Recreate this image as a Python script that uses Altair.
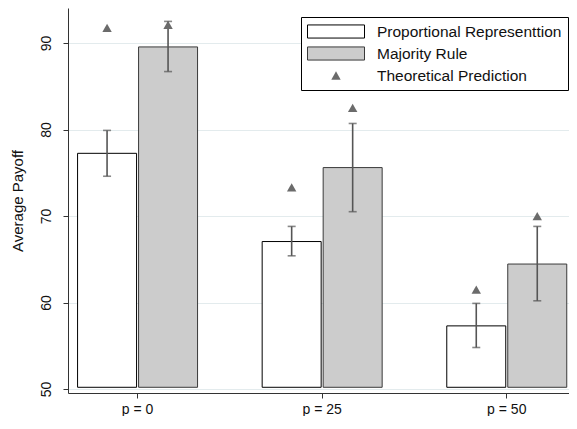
import altair as alt
import pandas as pd

# ---- data ----
groups = ["p = 0", "p = 25", "p = 50"]
series_names = ["Proportional Representtion", "Majority Rule", "Theoretical Prediction"]
bar_keys = ["PR", "MR"]

pr_mean = [77.25, 67.05, 57.3]
pr_lo = [74.6, 65.4, 54.8]
pr_hi = [79.9, 68.8, 59.9]

mr_mean = [89.55, 75.6, 64.45]
mr_lo = [86.7, 70.5, 60.2]
mr_hi = [92.5, 80.7, 68.8]

pr_theory = [91.75, 73.3, 61.5]
mr_theory = [92.1, 82.5, 70.0]

bar_base = 50.2
y_ticks = [50, 60, 70, 80, 90]

# ---- tables ----
bar_rows = []
tri_rows = []
for i, g in enumerate(groups):
    bar_rows.append(dict(group=g, bar="PR", series=series_names[0], mean=pr_mean[i],
                         lo=pr_lo[i], hi=pr_hi[i], base=bar_base))
    bar_rows.append(dict(group=g, bar="MR", series=series_names[1], mean=mr_mean[i],
                         lo=mr_lo[i], hi=mr_hi[i], base=bar_base))
    tri_rows.append(dict(group=g, bar="PR", series=series_names[2], theory=pr_theory[i]))
    tri_rows.append(dict(group=g, bar="MR", series=series_names[2], theory=mr_theory[i]))
bars_df = pd.DataFrame(bar_rows)
tri_df = pd.DataFrame(tri_rows)

FONT = "Liberation Sans"
RECT = "M-1,-0.23H1V0.23H-1Z"
TRI = "M0,-0.145L0.165,0.145L-0.165,0.145Z"

fill_scale = alt.Scale(domain=series_names, range=["#ffffff", "#cccccc", "#6b6b6b"])
stroke_scale = alt.Scale(domain=series_names, range=["#000000", "#3a3a3a", "transparent"])
shape_scale = alt.Scale(domain=series_names, range=[RECT, RECT, TRI])

x_enc = alt.X(
    "group:N", sort=groups,
    scale=alt.Scale(paddingInner=0.35, paddingOuter=0.032, align=0.81),
    axis=alt.Axis(title=None),
)
xo_enc = alt.XOffset("bar:N", sort=bar_keys,
                     scale=alt.Scale(domain=bar_keys, paddingInner=0.0328, paddingOuter=0))
y_scale = alt.Scale(domain=[49.54, 94.05], zero=False, nice=False)
y_axis = alt.Axis(title="Average Payoff", values=y_ticks)

bars = alt.Chart(bars_df).mark_bar(strokeWidth=1).encode(
    x=x_enc, xOffset=xo_enc,
    y=alt.Y("mean:Q", scale=y_scale, axis=y_axis),
    y2="base:Q",
    fill=alt.Fill("series:N", scale=fill_scale, title=None),
    stroke=alt.Stroke("series:N", scale=stroke_scale, title=None),
)

err = alt.Chart(bars_df).mark_rule(color="#555555", strokeWidth=1.6).encode(
    x=x_enc, xOffset=xo_enc,
    y=alt.Y("lo:Q", scale=y_scale, axis=y_axis),
    y2="hi:Q",
)

caps = alt.Chart(bars_df).transform_fold(["lo", "hi"], as_=["end", "val"]).mark_tick(
    color="#555555", thickness=1.6, size=8, orient="horizontal"
).encode(
    x=x_enc, xOffset=xo_enc,
    y=alt.Y("val:Q", scale=y_scale, axis=y_axis),
)

tris = alt.Chart(tri_df).mark_point(filled=True, size=3249, opacity=1, strokeWidth=0).encode(
    x=x_enc, xOffset=xo_enc,
    y=alt.Y("theory:Q", scale=y_scale, axis=y_axis),
    fill=alt.Fill("series:N", scale=fill_scale, title=None),
    stroke=alt.Stroke("series:N", scale=stroke_scale, title=None),
    shape=alt.Shape("series:N", scale=shape_scale, title=None),
)

chart = alt.layer(bars, err, caps, tris).properties(
    width=501, height=385,
    autosize=alt.AutoSizeParams(type="none"),
    padding={"left": 60, "top": 0, "right": 0, "bottom": 23},
    background="white",
).configure_view(stroke=None).configure_axis(
    domainColor="#333333", tickColor="#333333",
    labelFont=FONT, labelColor="#111111", labelFontSize=14,
    titleFont=FONT, titleColor="#111111", titleFontSize=15, titleFontWeight="normal",
).configure_axisX(
    labelAngle=0, tickSize=5, labelPadding=4, grid=False,
).configure_axisY(
    grid=True, gridColor="#e3ebed", gridWidth=1, tickSize=5,
    labelAngle=270, labelAlign="center", labelBaseline="alphabetic", labelPadding=13,
    titleAngle=270, titleX=-46, titleBaseline="alphabetic",
).configure_legend(
    orient="none", legendX=233, legendY=9,
    strokeColor="#000000", fillColor="#ffffff", padding=6, cornerRadius=0,
    symbolSize=3249, symbolStrokeWidth=1,
    labelFont=FONT, labelFontSize=15.5, labelColor="#111111", labelOffset=12,
    labelLimit=400, rowPadding=5, clipHeight=17, labelBaseline="middle",
)

chart.save("out.html", embed_options={"renderer": "svg", "actions": False})
